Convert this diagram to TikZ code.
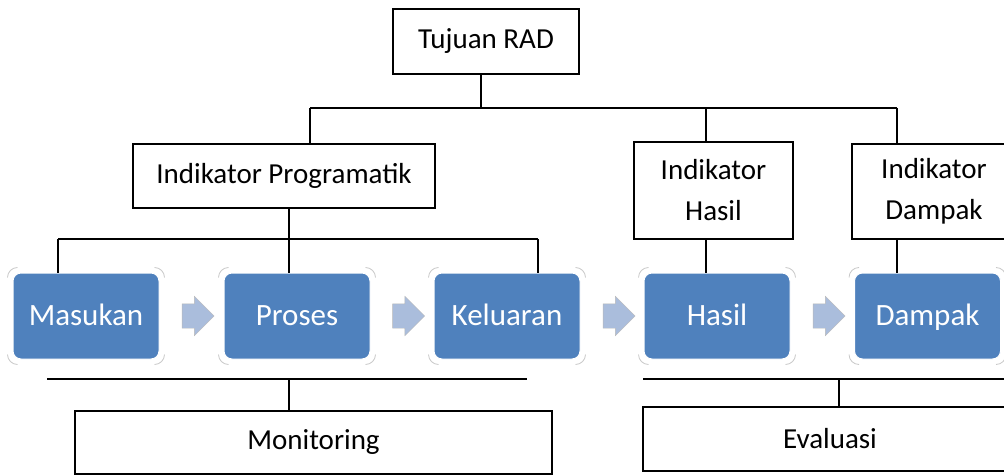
\documentclass[tikz,border=0pt]{standalone}
\usepackage{fontspec}
\setmainfont{Carlito}
\usetikzlibrary{shapes.arrows,calc}
\definecolor{boxblue}{RGB}{79,129,189}
\definecolor{arrowblue}{RGB}{170,189,220}
\definecolor{cornergray}{RGB}{200,200,200}
\tikzset{
  plainbox/.style={draw, line width=1.2pt, fill=white, inner sep=0pt, align=center,
                   font=\fontsize{29}{41}\selectfont},
  bluebox/.style={draw=white, line width=1pt, fill=boxblue, rounded corners=8pt,
                  minimum width=146, minimum height=86, inner sep=0pt, text=white,
                  text height=20pt, text depth=2pt, font=\fontsize{31}{37}\selectfont},
  flowarrow/.style={single arrow, draw=gray!55, line width=0.4pt, fill=arrowblue,
                    minimum height=32, inner xsep=0pt, inner ysep=12pt,
                    text height=0pt, text depth=0pt, single arrow head extend=7.5},
  wire/.style={line width=1.6pt},
  bracket/.style={cornergray, line width=0.8pt}
}
\begin{document}
\begin{tikzpicture}[x=1pt,y=1pt]
        \useasboundingbox (0,0) rectangle (1004,475);
        \clip (0,0) rectangle (1004,475);
        \node [plainbox, minimum width=186, minimum height=65] (tujuan)    at (486,433.5)   {Tujuan RAD};            %top
        \node [plainbox, minimum width=302, minimum height=64] (indprog)   at (284,299)     {Indikator Programatik}; %
        \node [plainbox, minimum width=159, minimum height=97] (indhasil)  at (713.5,284.5) {Indikator\\Hasil};      %
        \node [plainbox, minimum width=164, minimum height=95] (inddampak) at (934,283.5)   {Indikator\\Dampak};     %
        \node [bluebox] (masukan)  at (86,159)    {Masukan};                 %chain
        \node [bluebox] (proses)   at (297,159)   {Proses};                  %
        \node [bluebox] (keluaran) at (507,159)   {Keluaran};                %
        \node [bluebox] (hasil)    at (717,159)   {Hasil};                   %
        \node [bluebox] (dampak)   at (927.5,159) {Dampak};                  %
        \node [flowarrow] (arr1) at (192,159)   {};                          %
        \node [flowarrow] (arr2) at (402.5,159) {};                          %
        \node [flowarrow] (arr3) at (613,159)   {};                          %
        \node [flowarrow] (arr4) at (823,159)   {};                          %
        \foreach \n in {masukan,proses,keluaran,hasil,dampak}{
          \draw [bracket] ($(\n.north west)+(-5,-5)$) arc[start angle=180, end angle=90,   radius=10];
          \draw [bracket] ($(\n.north east)+(-5,5)$)  arc[start angle=90,  end angle=0,    radius=10];
          \draw [bracket] ($(\n.south east)+(5,5)$)   arc[start angle=0,   end angle=-90,  radius=10];
          \draw [bracket] ($(\n.south west)+(5,-5)$)  arc[start angle=-90, end angle=-180, radius=10];
        }
        \node [plainbox, minimum width=477, minimum height=63] (monitoring) at (313.5,32.5) {Monitoring}; %
        \node [plainbox, minimum width=374, minimum height=64] (evaluasi)   at (830,36)     {Evaluasi};   %

        \coordinate (topL) at (310,367);  \coordinate (topM) at (481,367);   %top bus
        \coordinate (topH) at (706,367);  \coordinate (topR) at (897,367);   %
        \draw [wire] (topL) -- (topR);                                       %
        \draw [wire] (tujuan.south -| topM) -- (topM);                       %
        \draw [wire] (topL) -- (topL |- indprog.north);                      %
        \draw [wire] (topH) -- (topH |- indhasil.north);                     %
        \draw [wire] (topR) -- (topR |- inddampak.north);                    %
        \draw [wire] (indhasil.south -| topH)  -- (topH |- hasil.north);     %
        \draw [wire] (inddampak.south -| topR) -- (topR |- dampak.north);    %

        \coordinate (midL) at (58,236);   \coordinate (midM) at (289,236);   %middle bus
        \coordinate (midR) at (538,236);                                     %
        \draw [wire] (midL) -- (midR);                                       %
        \draw [wire] (midL) -- (midL |- masukan.north);                      %
        \draw [wire] (midR) -- (midR |- keluaran.north);                     %
        \draw [wire] (indprog.south -| midM) -- (midM |- proses.north);      %

        \coordinate (monL) at (47,96);    \coordinate (monM) at (289,96);    %bottom buses
        \coordinate (monR) at (527,96);                                      %
        \draw [wire] (monL) -- (monR);                                       %
        \draw [wire] (monM) -- (monM |- monitoring.north);                   %
        \coordinate (evaL) at (643,96);   \coordinate (evaM) at (839,96);    %
        \coordinate (evaR) at (1010,96);                                     %
        \draw [wire] (evaL) -- (evaR);                                       %
        \draw [wire] (evaM) -- (evaM |- evaluasi.north);                     %
       \end{tikzpicture}
\end{document}
